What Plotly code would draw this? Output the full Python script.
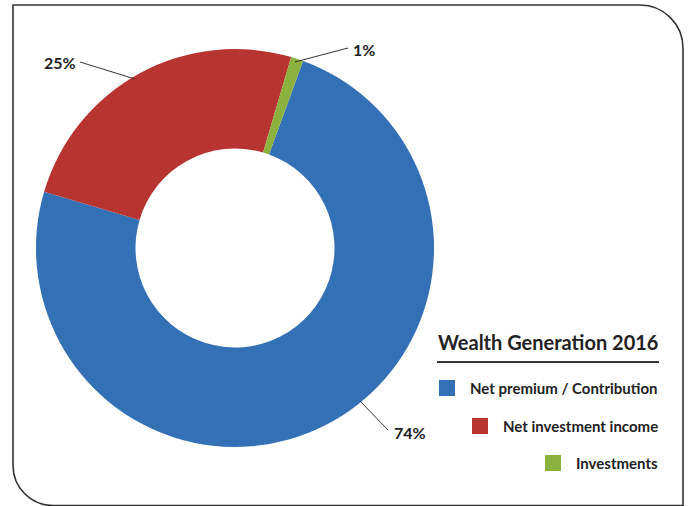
import plotly.graph_objects as go

W, H = 689, 506

# Data
categories = ["Net premium / Contribution", "Net investment income", "Investments"]
shares = [74, 25, 1]
colors = ["#3470B5", "#B73431", "#8BB23E"]
chart_title = "Wealth Generation 2016"


def px(x):
    return x / W


def py(y):
    return 1 - y / H


# Donut placement (pixels)
cx, cy, R = 235, 248, 199

fig = go.Figure(
    go.Pie(
        labels=categories,
        values=shares,
        hole=0.5,
        sort=False,
        direction="clockwise",
        rotation=20,
        marker=dict(colors=colors, line=dict(width=0)),
        textinfo="none",
        hoverinfo="label+percent",
        showlegend=False,
        domain=dict(x=[px(cx - R), px(cx + R)], y=[py(cy + R), py(cy - R)]),
    )
)

shapes = []
annotations = []

# Outside percentage labels with leader lines: (line start, line end, text centre)
leaders = [
    ((360, 401), (388, 430), (410, 432)),
    ((135, 79), (80, 62), (60, 63)),
    ((295, 62), (348, 48), (364, 49)),
]
label_font = dict(family="Lato", size=16, color="#222222", weight="bold")
for v, (p0, p1, t) in zip(shares, leaders):
    shapes.append(dict(type="line", xref="paper", yref="paper",
                       x0=px(p0[0]), y0=py(p0[1]), x1=px(p1[0]), y1=py(p1[1]),
                       line=dict(color="#333333", width=1)))
    annotations.append(dict(text=f"{v}%", x=px(t[0]), y=py(t[1]), xref="paper", yref="paper",
                            showarrow=False, xanchor="center", yanchor="middle", font=label_font))

# Legend block, right-aligned
legend_right = 659
annotations.append(dict(text=chart_title, x=px(legend_right + 1), y=py(342), xref="paper", yref="paper",
                        showarrow=False, xanchor="right", yanchor="middle",
                        font=dict(family="Lato", size=20, color="#222222", weight="bold")))
shapes.append(dict(type="line", xref="paper", yref="paper",
                   x0=px(437), y0=py(362), x1=px(legend_right), y1=py(362),
                   line=dict(color="#333333", width=2)))

row_y = [388, 426, 463]
swatch_x = [439, 472, 545]
sw = 16
for name, col, ry, sx in zip(categories, colors, row_y, swatch_x):
    shapes.append(dict(type="rect", xref="paper", yref="paper",
                       x0=px(sx), x1=px(sx + sw), y0=py(ry + sw / 2), y1=py(ry - sw / 2),
                       fillcolor=col, line=dict(width=0)))
    annotations.append(dict(text=name, x=px(legend_right + 1), y=py(ry), xref="paper", yref="paper",
                            showarrow=False, xanchor="right", yanchor="middle",
                            font=dict(family="Lato", size=15, color="#222222", weight="bold")))

# Frame: square top-left, rounded top-right and bottom-left
k = 0.5523
L, T, Rt, B = 13, 5, 683, 505.5
r1, r2 = 43, 40
pts = [
    f"M {px(L)} {py(T)}",
    f"L {px(Rt - r1)} {py(T)}",
    f"C {px(Rt - r1 + k * r1)} {py(T)} {px(Rt)} {py(T + r1 - k * r1)} {px(Rt)} {py(T + r1)}",
    f"L {px(Rt)} {py(B)}",
    f"L {px(L + r2)} {py(B)}",
    f"C {px(L + r2 - k * r2)} {py(B)} {px(L)} {py(B - r2 + k * r2)} {px(L)} {py(B - r2)}",
    "Z",
]
shapes.append(dict(type="path", xref="paper", yref="paper", path=" ".join(pts),
                   line=dict(color="#333333", width=1.6), layer="above"))

fig.update_layout(
    width=W, height=H,
    margin=dict(l=0, r=0, t=0, b=0),
    paper_bgcolor="white", plot_bgcolor="white",
    shapes=shapes, annotations=annotations,
)

fig.write_html("out.html")
